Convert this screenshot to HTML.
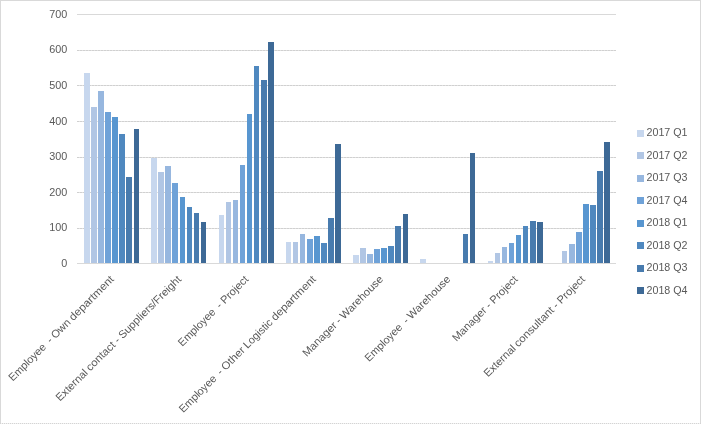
<!DOCTYPE html>
<html><head><meta charset="utf-8"><title>Chart</title>
<style>
html,body{margin:0;padding:0;background:#fff;}
body{width:701px;height:424px;overflow:hidden;position:relative;}
svg{display:block;position:absolute;left:0;top:0;}
text{font-family:"Liberation Sans",sans-serif;fill:#595959;}
</style></head><body>
<svg width="701" height="424" viewBox="0 0 701 424">
<rect x="0" y="0" width="701" height="424" fill="#ffffff"/>

<g shape-rendering="crispEdges">
<rect x="0" y="0" width="701" height="1" fill="#D9D9D9"/>
<rect x="0" y="0" width="1" height="424" fill="#D9D9D9"/>
<rect x="700" y="0" width="1" height="424" fill="#D9D9D9"/>
<rect x="0" y="423" width="701" height="1" fill="#F2F2F2"/>
<line x1="0" y1="423.5" x2="701" y2="423.5" stroke="#D4D4D4" stroke-width="1" stroke-dasharray="1 1"/>
</g>
<g fill="#D9D9D9" shape-rendering="crispEdges">
<rect x="77" y="14" width="539" height="1"/>
<rect x="77" y="50" width="539" height="1" fill="#E0E0E0"/>
<line x1="77" y1="50.5" x2="616" y2="50.5" stroke="#D0D0D0" stroke-width="1" stroke-dasharray="2 1"/>
<rect x="77" y="85" width="539" height="1" fill="#E0E0E0"/>
<line x1="77" y1="85.5" x2="616" y2="85.5" stroke="#D0D0D0" stroke-width="1" stroke-dasharray="2 1"/>
<rect x="77" y="121" width="539" height="1" fill="#E0E0E0"/>
<line x1="77" y1="121.5" x2="616" y2="121.5" stroke="#D0D0D0" stroke-width="1" stroke-dasharray="2 1"/>
<rect x="77" y="157" width="539" height="1" fill="#E0E0E0"/>
<line x1="77" y1="157.5" x2="616" y2="157.5" stroke="#D0D0D0" stroke-width="1" stroke-dasharray="2 1"/>
<rect x="77" y="192" width="539" height="1" fill="#E0E0E0"/>
<line x1="77" y1="192.5" x2="616" y2="192.5" stroke="#D0D0D0" stroke-width="1" stroke-dasharray="2 1"/>
<rect x="77" y="228" width="539" height="1" fill="#E0E0E0"/>
<line x1="77" y1="228.5" x2="616" y2="228.5" stroke="#D0D0D0" stroke-width="1" stroke-dasharray="2 1"/>
<rect x="77" y="263" width="539" height="1"/>
</g>
<g font-size="10.8" text-anchor="end">
<text x="67.2" y="18.00">700</text>
<text x="67.2" y="53.00">600</text>
<text x="67.2" y="89.00">500</text>
<text x="67.2" y="125.00">400</text>
<text x="67.2" y="160.00">300</text>
<text x="67.2" y="196.00">200</text>
<text x="67.2" y="231.00">100</text>
<text x="67.2" y="267.00">0</text>
</g>
<g shape-rendering="crispEdges">
<rect x="84" y="73" width="6" height="190" fill="#C7D7EE"/>
<rect x="91" y="107" width="6" height="156" fill="#B1C6E4"/>
<rect x="98" y="91" width="6" height="172" fill="#97B7DF"/>
<rect x="105" y="112" width="6" height="151" fill="#6FA2D8"/>
<rect x="112" y="117" width="6" height="146" fill="#5896D0"/>
<rect x="119" y="134" width="6" height="129" fill="#4F88BF"/>
<rect x="126" y="177" width="6" height="86" fill="#487BAE"/>
<rect x="134" y="129" width="5" height="134" fill="#3D6996"/>
<rect x="151" y="158" width="6" height="105" fill="#C7D7EE"/>
<rect x="158" y="172" width="6" height="91" fill="#B1C6E4"/>
<rect x="165" y="166" width="6" height="97" fill="#97B7DF"/>
<rect x="172" y="183" width="6" height="80" fill="#6FA2D8"/>
<rect x="180" y="197" width="5" height="66" fill="#5896D0"/>
<rect x="187" y="207" width="5" height="56" fill="#4F88BF"/>
<rect x="194" y="213" width="5" height="50" fill="#487BAE"/>
<rect x="201" y="222" width="5" height="41" fill="#3D6996"/>
<rect x="219" y="215" width="5" height="48" fill="#C7D7EE"/>
<rect x="226" y="202" width="5" height="61" fill="#B1C6E4"/>
<rect x="233" y="200" width="5" height="63" fill="#97B7DF"/>
<rect x="240" y="165" width="5" height="98" fill="#6FA2D8"/>
<rect x="247" y="114" width="5" height="149" fill="#5896D0"/>
<rect x="254" y="66" width="5" height="197" fill="#4F88BF"/>
<rect x="261" y="80" width="6" height="183" fill="#487BAE"/>
<rect x="268" y="42" width="6" height="221" fill="#3D6996"/>
<rect x="286" y="242" width="5" height="21" fill="#C7D7EE"/>
<rect x="293" y="242" width="5" height="21" fill="#B1C6E4"/>
<rect x="300" y="234" width="5" height="29" fill="#97B7DF"/>
<rect x="307" y="239" width="6" height="24" fill="#6FA2D8"/>
<rect x="314" y="236" width="6" height="27" fill="#5896D0"/>
<rect x="321" y="243" width="6" height="20" fill="#4F88BF"/>
<rect x="328" y="218" width="6" height="45" fill="#487BAE"/>
<rect x="335" y="144" width="6" height="119" fill="#3D6996"/>
<rect x="353" y="255" width="6" height="8" fill="#C7D7EE"/>
<rect x="360" y="248" width="6" height="15" fill="#B1C6E4"/>
<rect x="367" y="254" width="6" height="9" fill="#97B7DF"/>
<rect x="374" y="249" width="6" height="14" fill="#6FA2D8"/>
<rect x="381" y="248" width="6" height="15" fill="#5896D0"/>
<rect x="388" y="246" width="6" height="17" fill="#4F88BF"/>
<rect x="395" y="226" width="6" height="37" fill="#487BAE"/>
<rect x="403" y="214" width="5" height="49" fill="#3D6996"/>
<rect x="420" y="259" width="6" height="4" fill="#C7D7EE"/>
<rect x="463" y="234" width="5" height="29" fill="#487BAE"/>
<rect x="470" y="153" width="5" height="110" fill="#3D6996"/>
<rect x="488" y="261" width="5" height="2" fill="#C7D7EE"/>
<rect x="495" y="253" width="5" height="10" fill="#B1C6E4"/>
<rect x="502" y="247" width="5" height="16" fill="#97B7DF"/>
<rect x="509" y="243" width="5" height="20" fill="#6FA2D8"/>
<rect x="516" y="235" width="5" height="28" fill="#5896D0"/>
<rect x="523" y="226" width="5" height="37" fill="#4F88BF"/>
<rect x="530" y="221" width="6" height="42" fill="#487BAE"/>
<rect x="537" y="222" width="6" height="41" fill="#3D6996"/>
<rect x="562" y="251" width="5" height="12" fill="#B1C6E4"/>
<rect x="569" y="244" width="6" height="19" fill="#97B7DF"/>
<rect x="576" y="232" width="6" height="31" fill="#6FA2D8"/>
<rect x="583" y="204" width="6" height="59" fill="#5896D0"/>
<rect x="590" y="205" width="6" height="58" fill="#4F88BF"/>
<rect x="597" y="171" width="6" height="92" fill="#487BAE"/>
<rect x="604" y="142" width="6" height="121" fill="#3D6996"/>
</g>
<g font-size="10.8" text-anchor="end">
<g transform="translate(114.6,280) rotate(-45)">
<text x="-95.77" y="0" textLength="48.21" lengthAdjust="spacingAndGlyphs">Employee</text>
<text x="-86.67" y="0">-</text>
<text x="-61.12" y="0" textLength="22.83" lengthAdjust="spacingAndGlyphs">Own</text>
<text x="0.00" y="0" textLength="58.41" lengthAdjust="spacingAndGlyphs">department</text>
</g>
<g transform="translate(181.9,280) rotate(-45)">
<text x="-132.19" y="0" textLength="40.04" lengthAdjust="spacingAndGlyphs">External</text>
<text x="-92.91" y="0" textLength="36.57" lengthAdjust="spacingAndGlyphs">contact</text>
<text x="-86.53" y="0">-</text>
<text x="0.00" y="0" textLength="83.81" lengthAdjust="spacingAndGlyphs">Suppliers/Freight</text>
</g>
<g transform="translate(249.2,280) rotate(-45)">
<text x="-46.46" y="0" textLength="48.21" lengthAdjust="spacingAndGlyphs">Employee</text>
<text x="-37.36" y="0">-</text>
<text x="0.00" y="0" textLength="34.65" lengthAdjust="spacingAndGlyphs">Project</text>
</g>
<g transform="translate(316.5,280) rotate(-45)">
<text x="-140.39" y="0" textLength="48.21" lengthAdjust="spacingAndGlyphs">Employee</text>
<text x="-131.29" y="0">-</text>
<text x="-100.15" y="0" textLength="28.42" lengthAdjust="spacingAndGlyphs">Other</text>
<text x="-61.12" y="0" textLength="36.32" lengthAdjust="spacingAndGlyphs">Logistic</text>
<text x="0.00" y="0" textLength="58.41" lengthAdjust="spacingAndGlyphs">department</text>
</g>
<g transform="translate(383.8,280) rotate(-45)">
<text x="-65.29" y="0" textLength="43.86" lengthAdjust="spacingAndGlyphs">Manager</text>
<text x="-58.90" y="0">-</text>
<text x="0.00" y="0" textLength="56.19" lengthAdjust="spacingAndGlyphs">Warehouse</text>
</g>
<g transform="translate(451.1,280) rotate(-45)">
<text x="-68.00" y="0" textLength="48.21" lengthAdjust="spacingAndGlyphs">Employee</text>
<text x="-58.90" y="0">-</text>
<text x="0.00" y="0" textLength="56.19" lengthAdjust="spacingAndGlyphs">Warehouse</text>
</g>
<g transform="translate(518.4,280) rotate(-45)">
<text x="-43.75" y="0" textLength="43.86" lengthAdjust="spacingAndGlyphs">Manager</text>
<text x="-37.36" y="0">-</text>
<text x="0.00" y="0" textLength="34.65" lengthAdjust="spacingAndGlyphs">Project</text>
</g>
<g transform="translate(585.7,280) rotate(-45)">
<text x="-98.01" y="0" textLength="40.04" lengthAdjust="spacingAndGlyphs">External</text>
<text x="-43.75" y="0" textLength="51.55" lengthAdjust="spacingAndGlyphs">consultant</text>
<text x="-37.36" y="0">-</text>
<text x="0.00" y="0" textLength="34.65" lengthAdjust="spacingAndGlyphs">Project</text>
</g>
</g>
<g font-size="10.8">
<rect x="637" y="130" width="7" height="7" fill="#C7D7EE" shape-rendering="crispEdges"/>
<text x="646.5" y="136" textLength="41" lengthAdjust="spacingAndGlyphs">2017 Q1</text>
<rect x="637" y="152" width="7" height="7" fill="#B1C6E4" shape-rendering="crispEdges"/>
<text x="646.5" y="159" textLength="41" lengthAdjust="spacingAndGlyphs">2017 Q2</text>
<rect x="637" y="175" width="7" height="7" fill="#97B7DF" shape-rendering="crispEdges"/>
<text x="646.5" y="181" textLength="41" lengthAdjust="spacingAndGlyphs">2017 Q3</text>
<rect x="637" y="197" width="7" height="7" fill="#6FA2D8" shape-rendering="crispEdges"/>
<text x="646.5" y="204" textLength="41" lengthAdjust="spacingAndGlyphs">2017 Q4</text>
<rect x="637" y="220" width="7" height="7" fill="#5896D0" shape-rendering="crispEdges"/>
<text x="646.5" y="226" textLength="41" lengthAdjust="spacingAndGlyphs">2018 Q1</text>
<rect x="637" y="242" width="7" height="7" fill="#4F88BF" shape-rendering="crispEdges"/>
<text x="646.5" y="249" textLength="41" lengthAdjust="spacingAndGlyphs">2018 Q2</text>
<rect x="637" y="265" width="7" height="7" fill="#487BAE" shape-rendering="crispEdges"/>
<text x="646.5" y="271" textLength="41" lengthAdjust="spacingAndGlyphs">2018 Q3</text>
<rect x="637" y="287" width="7" height="7" fill="#3D6996" shape-rendering="crispEdges"/>
<text x="646.5" y="294" textLength="41" lengthAdjust="spacingAndGlyphs">2018 Q4</text>
</g>
</svg></body></html>
